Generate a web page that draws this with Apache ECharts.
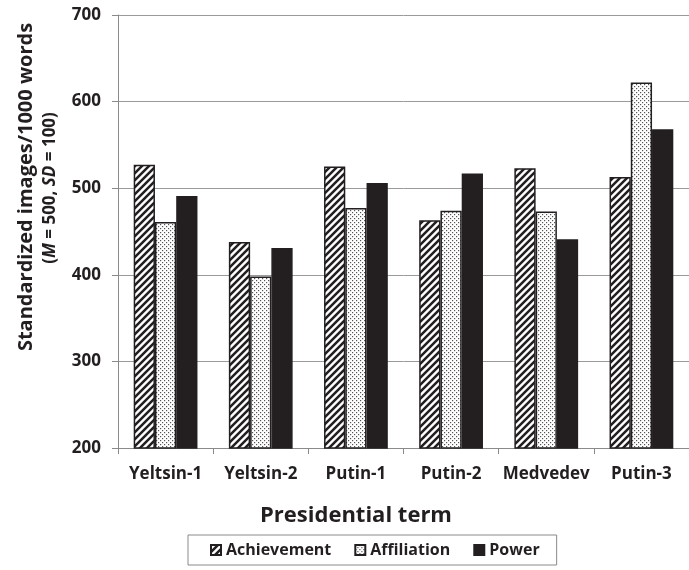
<!DOCTYPE html>
<html>
<head>
<meta charset="utf-8">
<script src="https://cdn.jsdelivr.net/npm/echarts@6/dist/echarts.min.js"></script>
<style>html,body{margin:0;padding:0;background:#fff;}#c{width:689px;height:570px;}</style>
</head>
<body>
<div id="c"></div>
<script>
var categories = ['Yeltsin-1', 'Yeltsin-2', 'Putin-1', 'Putin-2', 'Medvedev', 'Putin-3'];
var achievement = [527, 438, 525, 463, 523, 513];
var affiliation = [461, 398, 477, 474, 473, 622];
var power = [491, 431, 506, 517, 441, 568];
var seriesNames = ['Achievement', 'Affiliation', 'Power'];
var yTicks = {min: 200, max: 700, interval: 100};

var INK = '#231f20';
var FONT = 'Open Sans';

function hatch() {
  var c = document.createElement('canvas');
  var s = 7;
  c.width = s; c.height = s;
  var g = c.getContext('2d');
  g.fillStyle = '#fff'; g.fillRect(0, 0, s, s);
  g.strokeStyle = INK; g.lineWidth = 2.5;
  g.beginPath();
  g.moveTo(-1, 1); g.lineTo(1, -1);
  g.moveTo(0, s); g.lineTo(s, 0);
  g.moveTo(s - 1, s + 1); g.lineTo(s + 1, s - 1);
  g.stroke();
  return c;
}
function dots() {
  var c = document.createElement('canvas');
  var s = 4;
  c.width = s; c.height = s;
  var g = c.getContext('2d');
  g.fillStyle = '#fff'; g.fillRect(0, 0, s, s);
  g.fillStyle = '#555';
  g.fillRect(0, 0, 1.2, 1.2);
  g.fillRect(2, 2, 1.2, 1.2);
  return c;
}

var chart = echarts.init(document.getElementById('c'), null, {renderer: 'canvas'});
var border = {borderColor: INK, borderWidth: 1.5};
var bold = {color: INK, fontWeight: 'bold', fontFamily: FONT};
chart.setOption({
  animation: false,
  textStyle: {fontFamily: FONT},
  grid: {left: 118, top: 15, width: 579, height: 433, containLabel: false},
  xAxis: {
    type: 'category',
    data: categories,
    axisLine: {lineStyle: {color: '#8a8a8a', width: 1}},
    axisTick: {show: true, length: 6, alignWithLabel: false, lineStyle: {color: '#8a8a8a'}},
    axisLabel: Object.assign({fontSize: 17, margin: 18, interval: 0}, bold)
  },
  yAxis: {
    type: 'value',
    min: yTicks.min, max: yTicks.max, interval: yTicks.interval,
    axisLine: {show: true, lineStyle: {color: '#8a8a8a', width: 1}},
    axisTick: {show: true, length: 6, lineStyle: {color: '#8a8a8a'}},
    axisLabel: Object.assign({fontSize: 17, margin: 17}, bold),
    splitLine: {lineStyle: {color: '#9a9a9a', width: 1}}
  },
  legend: {
    data: seriesNames,
    left: 188, top: 535,
    icon: 'rect',
    itemWidth: 10, itemHeight: 10,
    itemGap: 23,
    padding: [7, 17, 7, 22],
    borderColor: '#8a8a8a', borderWidth: 1,
    textStyle: Object.assign({fontSize: 16}, bold)
  },
  graphic: [
    {type: 'text', x: 26, y: 187, rotation: Math.PI / 2,
     style: {text: 'Standardized images/1000 words', fill: INK, fontSize: 20, fontWeight: 'bold', fontFamily: FONT, align: 'center', verticalAlign: 'middle'}},
    {type: 'text', x: 50, y: 188, rotation: Math.PI / 2,
     style: {text: '{b|(}{i|M}{b| = 500, }{i|SD}{b| = 100)}', align: 'center', verticalAlign: 'middle',
       rich: {
         b: {fill: INK, fontSize: 17, fontWeight: 'bold', fontFamily: FONT},
         i: {fill: INK, fontSize: 17, fontWeight: 'bold', fontStyle: 'italic', fontFamily: FONT}
       }}},
    {type: 'text', x: 356, y: 516,
     style: {text: 'Presidential term', fill: INK, fontSize: 22, fontWeight: 'bold', fontFamily: FONT, align: 'center', verticalAlign: 'middle'}}
  ],
  series: [
    {name: seriesNames[0], type: 'bar', data: achievement, barGap: '0%', barCategoryGap: '33%',
     itemStyle: Object.assign({color: {image: hatch(), repeat: 'repeat'}}, border)},
    {name: seriesNames[1], type: 'bar', data: affiliation, barGap: '0%', barCategoryGap: '33%',
     itemStyle: Object.assign({color: {image: dots(), repeat: 'repeat'}}, border)},
    {name: seriesNames[2], type: 'bar', data: power, barGap: '0%', barCategoryGap: '33%',
     itemStyle: Object.assign({color: INK}, border)}
  ]
});
</script>
</body>
</html>
